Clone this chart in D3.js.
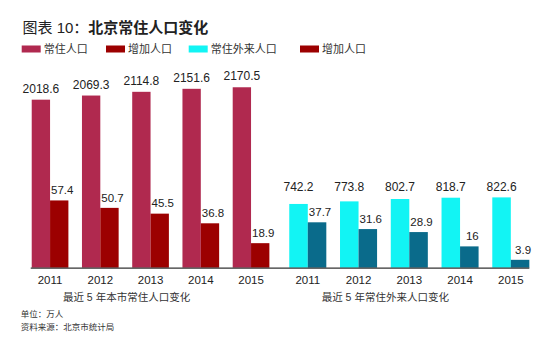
<!DOCTYPE html>
<html><head><meta charset="utf-8">
<script src="https://cdn.jsdelivr.net/npm/d3@7/dist/d3.min.js"></script>
<style>
body{margin:0;background:#fff;}
text{font-family:"Liberation Sans",Arial,"Noto Sans CJK SC",sans-serif;}
</style>
</head><body>
<script>
const years = ["2011","2012","2013","2014","2015"];
const residentTotal = [2018.6, 2069.3, 2114.8, 2151.6, 2170.5];
const residentIncrease = [57.4, 50.7, 45.5, 36.8, 18.9];
const migrantTotal = [742.2, 773.8, 802.7, 818.7, 822.6];
const migrantIncrease = [37.7, 31.6, 28.9, 16, 3.9];
const legendLabels = ["常住人口","增加人口","常住外来人口","增加人口"];
const panelTitles = ["最近 5 年本市常住人口变化","最近 5 年常住外来人口变化"];
const titlePrefix = "图表 10：";
const titleMain = "北京常住人口变化";
const unitNote = "单位：万人";
const sourceNote = "资料来源：北京市统计局";

const W = 550, H = 355, base = 267.7;
const colors = {total:"#b0294f", inc:"#9c0000", mig:"#12f4f4", migInc:"#0a6b8b"};
const legendColors = [colors.total, colors.inc, colors.mig, colors.inc];

const svg = d3.select("body").append("svg").attr("width",W).attr("height",H);

// title
const t = svg.append("text").attr("x",22.5).attr("y",26.5).attr("dominant-baseline","central")
  .attr("font-size",15).attr("fill","#222");
t.append("tspan").text(titlePrefix);
t.append("tspan").attr("font-weight","bold").text(titleMain);

// legend
const legX = [21.7, 106, 188.7, 300];
legendLabels.forEach((l,i)=>{
  svg.append("rect").attr("x",legX[i]).attr("y",45.5).attr("width",19).attr("height",7).attr("fill",legendColors[i]);
  svg.append("text").attr("x",legX[i]+22).attr("y",49).attr("dominant-baseline","central")
    .attr("font-size",11).attr("fill","#333").text(l);
});

// scales
const yMain = d3.scaleLinear().domain([-38, 2200]).range([base, base - 2238*0.0817]);
const ySec = d3.scaleLinear().domain([-3.2, 60]).range([base, base - 63.2*1.11]);

const panels = [
  {range:[27.7,273.4], totals:residentTotal, incs:residentIncrease, c1:colors.total, c2:colors.inc, sameLevel:false, title:panelTitles[0]},
  {range:[285.2,533.4], totals:migrantTotal, incs:migrantIncrease, c1:colors.mig, c2:colors.migInc, sameLevel:true, title:panelTitles[1]}
];

let firstX=null, lastX=null;
panels.forEach((p,pi)=>{
  const x = d3.scaleBand().domain(years).range(p.range).paddingInner(0.27).paddingOuter(0.08);
  const bw = x.bandwidth();
  const inner = d3.scaleBand().domain(["total","inc"]).range([0,bw]);
  const g = svg.append("g");
  const rows = years.map((y,i)=>({year:y,total:p.totals[i],inc:p.incs[i]}));
  g.selectAll(".t").data(rows).join("rect")
    .attr("x",d=>x(d.year)+inner("total")).attr("width",inner.bandwidth())
    .attr("y",d=>yMain(d.total)).attr("height",d=>base-yMain(d.total)).attr("fill",p.c1);
  g.selectAll(".i").data(rows).join("rect")
    .attr("x",d=>x(d.year)+inner("inc")).attr("width",inner.bandwidth())
    .attr("y",d=>ySec(d.inc)).attr("height",d=>base-ySec(d.inc)).attr("fill",p.c2);
  const maxTop = yMain(d3.max(p.totals));
  g.selectAll(".tl").data(rows).join("text")
    .attr("x",d=>x(d.year)+inner("total")+inner.bandwidth()/2)
    .attr("y",d=>(p.sameLevel?maxTop:yMain(d.total))-6.8)
    .attr("text-anchor","middle").attr("font-size",12).attr("fill","#222").text(d=>d.total);
  g.selectAll(".il").data(rows).join("text")
    .attr("x",d=>x(d.year)+inner("inc")+inner.bandwidth()/2+3)
    .attr("y",d=>ySec(d.inc)-6.3)
    .attr("text-anchor","middle").attr("font-size",11.5).attr("fill","#222").text(d=>d.inc);
  // x axis labels
  g.selectAll(".yl").data(years).join("text")
    .attr("x",d=>x(d)+bw/2).attr("y",284).attr("text-anchor","middle")
    .attr("font-size",11.5).attr("fill","#222").text(d=>d);
  const cx = (x(years[0]) + x(years[4]) + bw)/2 - 24;
  g.append("text").attr("x",cx).attr("y",296.5).attr("dominant-baseline","central")
    .attr("text-anchor","middle").attr("font-size",10.5).attr("fill","#333").text(p.title);
  if(pi===0) firstX = x(years[0]);
  if(pi===1) lastX = x(years[4])+bw;
});

svg.append("line").attr("x1",firstX-1).attr("x2",lastX).attr("y1",base+0.5).attr("y2",base+0.5)
  .attr("stroke","#333").attr("stroke-width",1.2);

svg.append("text").attr("x",20.7).attr("y",314).attr("dominant-baseline","central")
  .attr("font-size",8.5).attr("fill","#333").text(unitNote);
svg.append("text").attr("x",20.7).attr("y",326.7).attr("dominant-baseline","central")
  .attr("font-size",8.5).attr("fill","#333").text(sourceNote);
</script>
</body></html>
